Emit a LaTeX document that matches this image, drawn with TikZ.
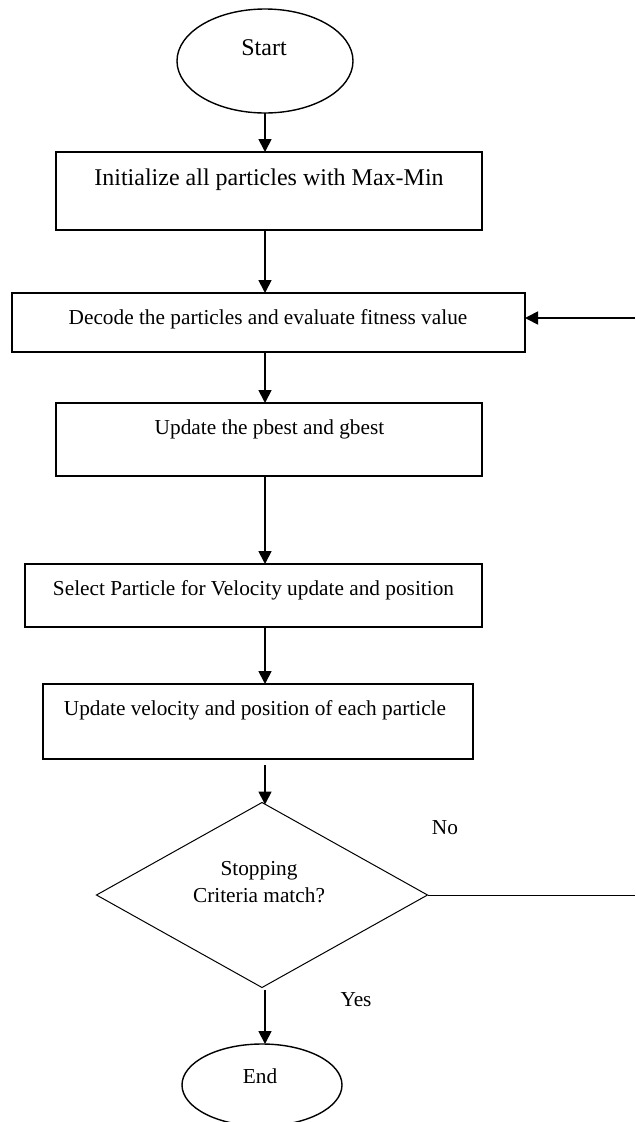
\documentclass[tikz,border=0pt]{standalone}
\usepackage{fontspec}
\setmainfont{Liberation Serif}
\usetikzlibrary{shapes.geometric,arrows.meta}
\begin{document}
\begin{tikzpicture}[x=1pt,y=-1pt,
  box/.style={draw, line width=1.5pt, rectangle, inner sep=0pt, outer sep=0pt},
  term/.style={draw, line width=1.4pt, ellipse, inner sep=0pt, outer sep=0pt},
  decision/.style={draw, line width=1pt, diamond, inner sep=0pt, outer sep=0pt},
  lbl/.style={anchor=base, inner sep=0pt, font=\fontsize{21.3}{26}\selectfont},
  biglbl/.style={anchor=base, inner sep=0pt, font=\fontsize{24}{28}\selectfont},
  flow/.style={line width=1.8pt, -{Triangle[width=13pt,length=13pt]}},
  plainline/.style={line width=1pt}]
\useasboundingbox (0,0) rectangle (635,1122);
% shapes
\node[term, minimum width=176pt, minimum height=104pt] (start) at (265,61) {};
\node[box, minimum width=426pt, minimum height=78pt] (init) at (269,191) {};
\node[box, minimum width=513pt, minimum height=59pt] (decode) at (268.5,322.5) {};
\node[box, minimum width=426pt, minimum height=73pt] (upd) at (269,439.5) {};
\node[box, minimum width=457pt, minimum height=63pt] (sel) at (253.5,595.5) {};
\node[box, minimum width=430pt, minimum height=75pt] (velo) at (258,721.5) {};
\node[decision, minimum width=331pt, minimum height=185pt] (dia) at (262,895) {};
\node[term, minimum width=160pt, minimum height=82pt] (stop) at (262,1085) {};
% texts
\node[biglbl] (tstart) at (264,55) {Start};
\node[biglbl] (tinit) at (269,185) {Initialize all particles with Max-Min};
\node[lbl] (tdecode) at (268,324) {Decode the particles and evaluate fitness value};
\node[lbl] (tupd) at (269.5,434) {Update the pbest and gbest};
\node[lbl] (tsel) at (253.5,595) {Select Particle for Velocity update and position};
\node[lbl] (tvelo) at (255,715) {Update velocity and position of each particle};
\node[lbl] (tdia1) at (259,875) {Stopping};
\node[lbl] (tdia2) at (259,902) {Criteria match?};
\node[lbl] (tno) at (445,834) {No};
\node[lbl] (tyes) at (356,1006) {Yes};
\node[lbl] (tend) at (260,1083) {End};
% loop coordinates at the right edge
\coordinate (fbA) at (635,895);
\coordinate (fbB) at (635,318);
% connectors
\draw[flow] (start.south) -- (start.south |- init.north);
\draw[flow] (start.south |- init.south) -- (start.south |- decode.north);
\draw[flow] (start.south |- decode.south) -- (start.south |- upd.north);
\draw[flow] (start.south |- upd.south) -- (start.south |- sel.north);
\draw[flow] (start.south |- sel.south) -- (start.south |- velo.north);
\draw[flow, shorten <=6pt] (start.south |- velo.south) -- ([yshift=-2pt]start.south |- dia.north);
\draw[flow] ([yshift=-2pt]start.south |- dia.south) -- (start.south |- stop.north);
\draw[plainline] (dia.east) -- (fbA);
\draw[flow] (fbB) -- (fbB -| decode.east);
\end{tikzpicture}
\end{document}
